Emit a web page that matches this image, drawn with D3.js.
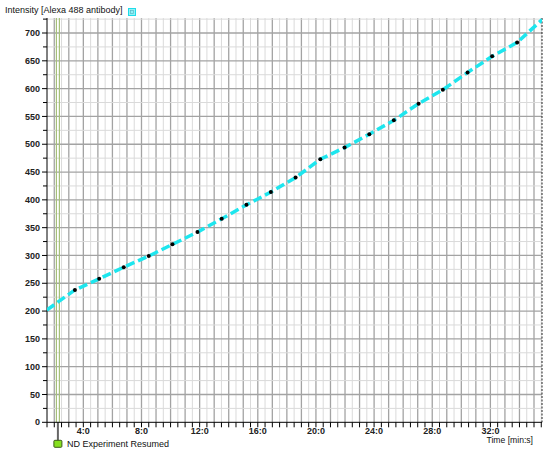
<!DOCTYPE html>
<html>
<head>
<meta charset="utf-8">
<script src="https://cdn.jsdelivr.net/npm/d3@7"></script>
<style>
  body { margin: 0; background: #fff; }
  svg { display: block; font-family: "Liberation Sans", Arial, sans-serif; }
</style>
</head>
<body>
<svg width="550" height="455"></svg>
<script>
// time in minutes, intensity readings
var times = [1.49, 3.42, 5.09, 6.78, 8.5, 10.13, 11.85, 13.52, 15.22, 16.9, 18.6,
  20.3, 21.97, 23.67, 25.36, 27.06, 28.73, 30.43, 32.12, 33.84, 35.56];
var values = [202, 238, 258, 279, 299, 320, 342, 366, 391, 414, 440,
  473, 494, 518, 543, 573, 598, 629, 658, 683, 724];

var xLabels = [4, 8, 12, 16, 20, 24, 28, 32];
var yLabels = d3.range(0, 701, 50);
var eventTime = 2.25;
var eventName = "ND Experiment Resumed";
var yTitle = "Intensity [Alexa 488 antibody]";
var xTitle = "Time [min:s]";

var margin = { top: 18, right: 8, bottom: 32.7, left: 47 };
var width = 550 - margin.left - margin.right;
var height = 455 - margin.top - margin.bottom;

var x = d3.scaleLinear().domain([1.5, 35.55]).range([0, width]);
var y = d3.scaleLinear().domain([0, 727]).range([height, 0]);

var svg = d3.select("svg")
  .append("g")
  .attr("transform", "translate(" + margin.left + "," + margin.top + ")");

svg.append("clipPath").attr("id", "clip")
  .append("rect").attr("width", width).attr("height", height);

// grid, half steps light, whole steps dark
var xGrid = d3.range(2, 35.6, 0.5);
var yGrid = d3.range(25, 727, 25);

svg.append("g").selectAll("line")
  .data(xGrid)
  .enter()
  .append("line")
  .attr("x1", function (d) { return x(d); })
  .attr("x2", function (d) { return x(d); })
  .attr("y1", 0)
  .attr("y2", height)
  .attr("stroke", function (d) { return d % 1 === 0 ? "#a3a3a3" : "#dadada"; })
  .attr("stroke-width", function (d) { return d % 1 === 0 ? 1.3 : 1; });

svg.append("g").selectAll("line")
  .data(yGrid)
  .enter()
  .append("line")
  .attr("x1", 0)
  .attr("x2", width)
  .attr("y1", function (d) { return y(d); })
  .attr("y2", function (d) { return y(d); })
  .attr("stroke", function (d) { return d % 50 === 0 ? "#a3a3a3" : "#dadada"; })
  .attr("stroke-width", function (d) { return d % 50 === 0 ? 1.3 : 1; });

// event marker
svg.append("line")
  .attr("x1", x(eventTime) - 1.5).attr("x2", x(eventTime) - 1.5)
  .attr("y1", 0).attr("y2", height)
  .attr("stroke", "#a6c07a").attr("stroke-width", 1.2);
svg.append("line")
  .attr("x1", x(eventTime) + 1.5).attr("x2", x(eventTime) + 1.5)
  .attr("y1", 0).attr("y2", height)
  .attr("stroke", "#a6c07a").attr("stroke-width", 1.2);
svg.append("line")
  .attr("x1", x(eventTime)).attr("x2", x(eventTime))
  .attr("y1", height).attr("y2", height + 20)
  .attr("stroke", "#666").attr("stroke-width", 2);
svg.append("rect")
  .attr("x", x(eventTime) - 4).attr("y", height + 18)
  .attr("width", 8).attr("height", 7)
  .attr("rx", 1)
  .attr("fill", "#86e01e").attr("stroke", "#3c5a1a").attr("stroke-width", 1);
svg.append("text")
  .attr("x", x(eventTime) + 9).attr("y", height + 25)
  .attr("font-size", "9px").attr("fill", "#111")
  .text(eventName);

// right border
svg.append("line")
  .attr("x1", width).attr("x2", width)
  .attr("y1", 0).attr("y2", height)
  .attr("stroke", "#222").attr("stroke-dasharray", "2,1.5");

// axes
var xAxis = svg.append("g").attr("transform", "translate(0," + height + ")");
xAxis.append("line").attr("x1", 0).attr("x2", width).attr("stroke", "#000");
xAxis.selectAll("line.t")
  .data(d3.range(1.5, 35.6, 0.5))
  .enter()
  .append("line")
  .attr("class", "t")
  .attr("x1", function (d) { return x(d); })
  .attr("x2", function (d) { return x(d); })
  .attr("y1", 0).attr("y2", 5)
  .attr("stroke", "#000");
xAxis.selectAll("text")
  .data(xLabels)
  .enter()
  .append("text")
  .attr("x", function (d) { return x(d); })
  .attr("y", 12)
  .attr("text-anchor", "middle")
  .attr("font-size", "9px").attr("font-weight", "bold").attr("fill", "#222")
  .text(function (d) { return d + ":0"; });
xAxis.append("text")
  .attr("x", width - 9).attr("y", 20.5)
  .attr("text-anchor", "end")
  .attr("font-size", "8.6px").attr("fill", "#111")
  .text(xTitle);

var yAxis = svg.append("g");
yAxis.append("line").attr("y1", 0).attr("y2", height).attr("stroke", "#000");
yAxis.selectAll("line.t")
  .data(d3.range(0, 727, 25))
  .enter()
  .append("line")
  .attr("class", "t")
  .attr("x1", function (d) { return d % 50 === 0 ? -5 : -4; })
  .attr("x2", 0)
  .attr("y1", function (d) { return y(d); })
  .attr("y2", function (d) { return y(d); })
  .attr("stroke", "#000");
yAxis.selectAll("text")
  .data(yLabels)
  .enter()
  .append("text")
  .attr("x", -7)
  .attr("y", function (d) { return y(d); })
  .attr("dy", "0.35em")
  .attr("text-anchor", "end")
  .attr("font-size", "9px").attr("font-weight", "bold").attr("fill", "#222")
  .text(function (d) { return d; });

// title + legend swatch
svg.append("text")
  .attr("x", 5 - margin.left).attr("y", 13 - margin.top)
  .attr("font-size", "9px").attr("fill", "#111")
  .text(yTitle);
svg.append("rect")
  .attr("x", 128.5 - margin.left).attr("y", 8.5 - margin.top)
  .attr("width", 7).attr("height", 7)
  .attr("fill", "#8ff2f6").attr("stroke", "#20dbe8");
svg.append("rect")
  .attr("x", 130.5 - margin.left).attr("y", 10.5 - margin.top)
  .attr("width", 3).attr("height", 3)
  .attr("fill", "none").attr("stroke", "#5ab8c8").attr("stroke-width", 0.7);

// series
var line = d3.line()
  .x(function (d, i) { return x(times[i]); })
  .y(function (d) { return y(d); });

svg.append("path")
  .datum(values)
  .attr("clip-path", "url(#clip)")
  .attr("fill", "none")
  .attr("stroke", "#1de6ee")
  .attr("stroke-width", 3.5)
  .attr("stroke-dasharray", "9,4")
  .attr("d", line);

svg.append("g").selectAll("circle")
  .data(values.slice(1, -1))
  .enter()
  .append("circle")
  .attr("cx", function (d, i) { return x(times[i + 1]); })
  .attr("cy", function (d) { return y(d); })
  .attr("r", 2)
  .attr("fill", "#000");
</script>
</body>
</html>
